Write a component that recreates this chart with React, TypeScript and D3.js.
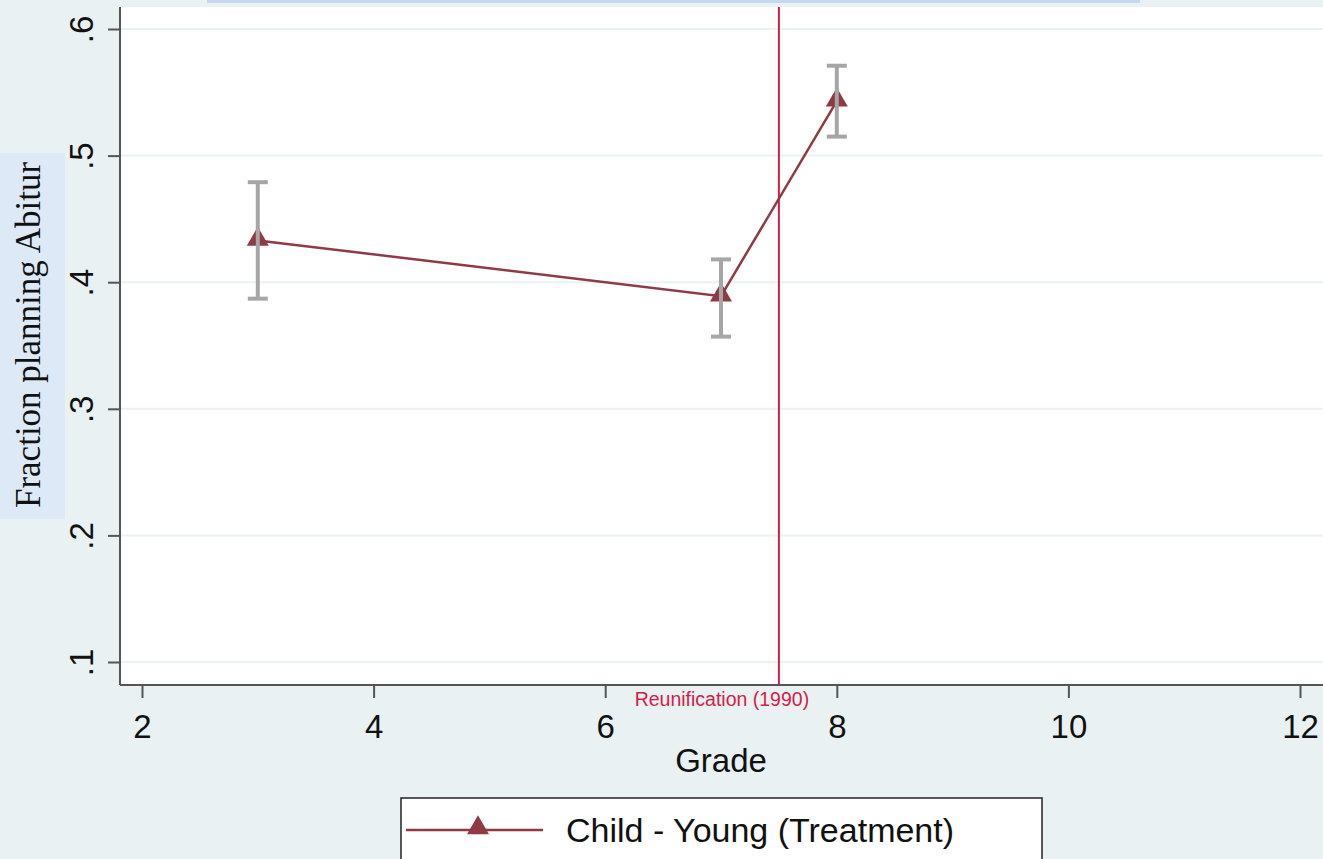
import { useEffect, useRef } from "react";
import * as d3 from "d3";

const grades = [3, 7, 8];
const means = [0.433, 0.389, 0.543];
const ciLow = [0.387, 0.357, 0.515];
const ciHigh = [0.479, 0.418, 0.571];
const xTicks = [2, 4, 6, 8, 10, 12];
const yTicks = [0.1, 0.2, 0.3, 0.4, 0.5, 0.6];
const yTickLabels = [".1", ".2", ".3", ".4", ".5", ".6"];
const reunificationGrade = 7.5;
const seriesName = "Child - Young (Treatment)";

export default function App() {
  const ref = useRef<SVGSVGElement | null>(null);

  useEffect(() => {
    const svg = d3.select(ref.current);
    svg.selectAll("*").remove();
    const width = 1323;
    const height = 859;
    const plot = { left: 120, right: 1323, top: 7, bottom: 685 };

    const x = d3.scaleLinear().domain([2, 12]).range([142, 1300]);
    const y = d3.scaleLinear().domain([0.1, 0.6]).range([662, 29]);

    const sans = "Arial, 'Liberation Sans', sans-serif";
    const lineColor = "#903a44";

    // background
    svg.append("rect").attr("width", width).attr("height", height).attr("fill", "#e9f1f3");
    // cropped title box at top
    svg.append("rect").attr("x", 207).attr("y", 0).attr("width", 933).attr("height", 3).attr("fill", "#c3d9ee");

    svg.append("rect")
      .attr("x", plot.left).attr("y", plot.top)
      .attr("width", plot.right - plot.left).attr("height", plot.bottom - plot.top)
      .attr("fill", "#ffffff");

    // grid lines
    svg.append("g").selectAll("line").data(yTicks).join("line")
      .attr("x1", plot.left).attr("x2", plot.right)
      .attr("y1", d => y(d)).attr("y2", d => y(d))
      .attr("stroke", "#eaf2f4").attr("stroke-width", 2);

    // y axis
    const yAxis = d3.axisLeft(y).tickValues(yTicks).tickSize(12).tickFormat((_, i) => yTickLabels[i]);
    const gy = svg.append("g").attr("transform", `translate(${plot.left},0)`).call(yAxis);
    gy.select(".domain").attr("d", `M0,${plot.top}V${plot.bottom}`).attr("stroke", "#555").attr("stroke-width", 2);
    gy.selectAll(".tick line").attr("stroke", "#555").attr("stroke-width", 2);
    gy.selectAll(".tick text")
      .attr("x", null).attr("dy", null)
      .attr("transform", "translate(-27,0) rotate(-90)")
      .attr("text-anchor", "middle")
      .attr("font-family", sans).attr("font-size", 33).attr("fill", "#111");

    // x axis
    const xAxis = d3.axisBottom(x).tickValues(xTicks).tickSize(13).tickFormat(d3.format("d"));
    const gx = svg.append("g").attr("transform", `translate(0,${plot.bottom})`).call(xAxis);
    gx.select(".domain").attr("d", `M${plot.left},0H${plot.right}`).attr("stroke", "#555").attr("stroke-width", 2);
    gx.selectAll(".tick line").attr("stroke", "#555").attr("stroke-width", 2);
    gx.selectAll(".tick text")
      .attr("y", 53).attr("dy", null)
      .attr("font-family", sans).attr("font-size", 33).attr("fill", "#111");

    // reunification line
    svg.append("line")
      .attr("x1", x(reunificationGrade)).attr("x2", x(reunificationGrade))
      .attr("y1", plot.top).attr("y2", plot.bottom)
      .attr("stroke", "#d21d47").attr("stroke-width", 2);
    svg.append("text")
      .text("Reunification (1990)")
      .attr("x", x(reunificationGrade) - 57).attr("y", 706)
      .attr("text-anchor", "middle")
      .attr("font-family", sans).attr("font-size", 19.5).attr("fill", "#d21d47");

    // axis titles
    svg.append("text").text("Grade")
      .attr("x", 721).attr("y", 772).attr("text-anchor", "middle")
      .attr("font-family", sans).attr("font-size", 33).attr("fill", "#111");

    svg.append("rect").attr("x", 0).attr("y", 153).attr("width", 65).attr("height", 366).attr("fill", "#dde9f6");
    svg.append("text").text("Fraction planning Abitur")
      .attr("transform", "translate(40,335) rotate(-90)")
      .attr("text-anchor", "middle")
      .attr("font-family", "'Liberation Serif', 'Times New Roman', serif")
      .attr("font-size", 35).attr("fill", "#111");

    // series line
    const pts = grades.map((g, i) => [x(g), y(means[i])] as [number, number]);
    svg.append("path").attr("d", d3.line()(pts))
      .attr("fill", "none").attr("stroke", lineColor).attr("stroke-width", 2.5);

    const tri = d3.symbol().type(d3.symbolTriangle).size(210);
    svg.append("g").selectAll("path").data(pts).join("path")
      .attr("d", tri)
      .attr("transform", d => `translate(${d[0]},${d[1] - 1})`)
      .attr("fill", lineColor);

    // error bars
    const eb = svg.append("g").attr("stroke", "#a6a6a6").attr("stroke-width", 4);
    grades.forEach((g, i) => {
      const cx = x(g);
      eb.append("line").attr("x1", cx).attr("x2", cx).attr("y1", y(ciLow[i])).attr("y2", y(ciHigh[i]));
      eb.append("line").attr("x1", cx - 10).attr("x2", cx + 10).attr("y1", y(ciLow[i])).attr("y2", y(ciLow[i]));
      eb.append("line").attr("x1", cx - 10).attr("x2", cx + 10).attr("y1", y(ciHigh[i])).attr("y2", y(ciHigh[i]));
    });

    // legend
    svg.append("rect").attr("x", 401).attr("y", 798).attr("width", 641).attr("height", 80)
      .attr("fill", "#ffffff").attr("stroke", "#222").attr("stroke-width", 1.5);
    svg.append("line").attr("x1", 406).attr("x2", 543).attr("y1", 830).attr("y2", 830)
      .attr("stroke", lineColor).attr("stroke-width", 2.5);
    svg.append("path").attr("d", tri).attr("transform", "translate(478,828)").attr("fill", lineColor);
    svg.append("text").text(seriesName)
      .attr("x", 566).attr("y", 842)
      .attr("font-family", sans).attr("font-size", 34).attr("fill", "#111");
  }, []);

  return (
    <div>
      <svg ref={ref} width={1323} height={859} style={{ display: "block", position: "absolute", left: 0, top: 0 }}></svg>
    </div>
  );
}
